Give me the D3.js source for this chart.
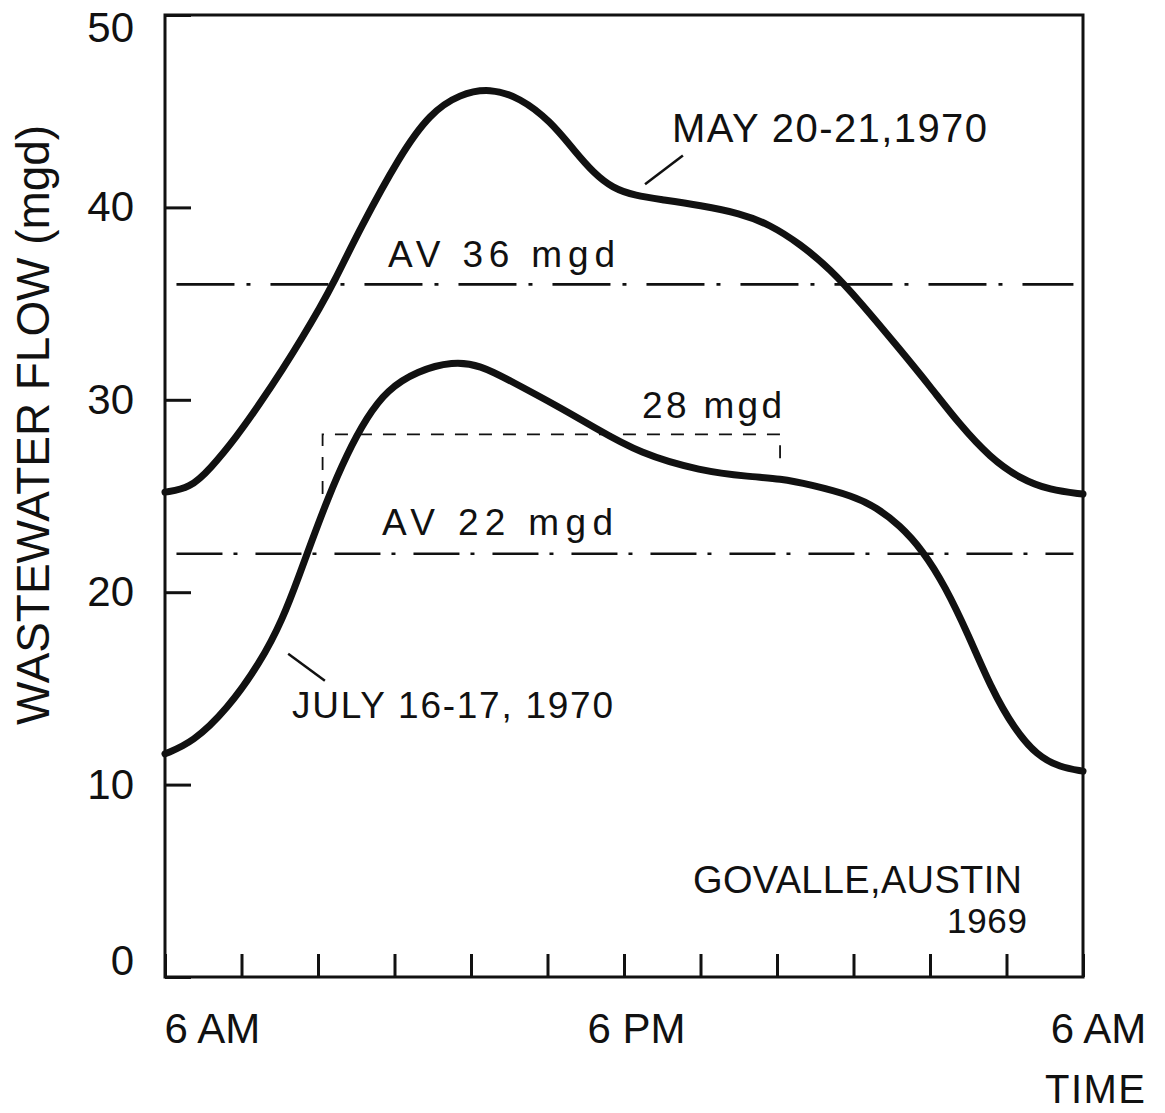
<!DOCTYPE html>
<html>
<head>
<meta charset="utf-8">
<script src="https://cdn.jsdelivr.net/npm/d3@7"></script>
<style>
  body { margin: 0; background: #fff; }
  svg text { font-family: "Liberation Sans", Arial, sans-serif; fill: #111; }
</style>
</head>
<body>
<div id="chart"></div>
<script>
// hours after 6 AM, flow in mgd
const mayHours = [0, 0.65, 1.18, 1.88, 2.48, 3.08, 3.61, 4.05, 4.39, 5.1, 6.14, 6.93, 7.71, 8.5, 9.28, 10.07, 10.72, 11.2, 11.7, 12.3, 13.0, 14.0, 15.03, 15.82, 16.6, 17.39, 18.17, 19.22, 20.0, 20.78, 21.57, 22.35, 23.14, 24]
const mayFlow  = [25.2, 25.4, 26.4, 28.1, 29.8, 31.6, 33.3, 34.8, 36.0, 38.9, 42.7, 44.9, 45.9, 46.2, 45.7, 44.5, 42.9, 41.8, 41.0, 40.6, 40.4, 40.1, 39.7, 39.1, 38.1, 36.8, 35.1, 32.6, 30.7, 28.7, 27.0, 25.9, 25.3, 25.1]

const julyHours = [0, 0.73, 1.62, 2.48, 3.08, 3.53, 3.79, 4.24, 4.76, 5.28, 5.8, 6.59, 7.53, 8.24, 9.02, 10.33, 11.19, 12.42, 14.0, 15.3, 16.08, 16.86, 18.0, 18.6, 19.2, 19.8, 20.4, 21.0, 21.6, 22.2, 22.8, 23.4, 24]
const julyFlow  = [11.6, 12.2, 13.9, 16.3, 18.6, 21.0, 22.4, 24.8, 27.2, 29.1, 30.5, 31.5, 32.0, 31.8, 31.0, 29.6, 28.6, 27.2, 26.3, 26.0, 25.9, 25.6, 25.0, 24.4, 23.5, 22.2, 20.3, 17.8, 15.0, 12.9, 11.5, 10.9, 10.7]

const averageFlow = [36, 22]
const averageSpan = [0.3, 23.75]

// dashed bracket marking the 28 mgd period
const bracketHours = [4.12, 16.08]
const bracketEnds = [25.1, 26.4]
const bracketLevel = 28.2

const hourTicks = d3.range(0, 25, 2)
const timeLabelHours = [0, 12, 24]
const timeLabels = ['6 AM', '6 PM', '6 AM']
const flowTicks = [0, 10, 20, 30, 40, 50]

const W = 1165
const H = 1113
const margin = { top: 15, right: 82, bottom: 136, left: 165 }
const font = '"Liberation Sans", Arial, sans-serif'

const svg = d3.select('#chart').append('svg')
  .attr('width', W)
  .attr('height', H)

const x = d3.scaleLinear()
  .domain([0, 24])
  .range([margin.left, W - margin.right])

const y = d3.scaleLinear()
  .domain([0, 50])
  .range([H - margin.bottom, margin.top])

const ink = '#111'

// frame
svg.append('rect')
  .attr('x', x(0))
  .attr('y', y(50))
  .attr('width', x(24) - x(0))
  .attr('height', y(0) - y(50))
  .attr('fill', 'none')
  .attr('stroke', ink)
  .attr('stroke-width', 3)

// y axis, ticks pointing in
const yAxis = d3.axisLeft(y).tickValues(flowTicks).tickSize(-26).tickPadding(31)
svg.append('g')
  .attr('transform', 'translate(' + x(0) + ',0)')
  .call(yAxis)
  .attr('font-size', 42)
  .attr('font-family', font)
  .call(g => g.select('.domain').remove())
  .call(g => g.selectAll('.tick line').attr('stroke', ink).attr('stroke-width', 3))
  .call(g => g.selectAll('.tick text')
    .attr('fill', ink)
    .attr('transform', d => d === 50 ? 'translate(0,13)' : d === 0 ? 'translate(0,-16)' : null))

// x axis
const xAxis = d3.axisBottom(x).tickValues(hourTicks).tickSize(-23).tickPadding(36)
  .tickFormat(h => {
    const i = timeLabelHours.indexOf(h)
    return i < 0 ? '' : timeLabels[i]
  })
svg.append('g')
  .attr('transform', 'translate(0,' + y(0) + ')')
  .call(xAxis)
  .attr('font-size', 42)
  .attr('font-family', font)
  .call(g => g.select('.domain').remove())
  .call(g => g.selectAll('.tick line').attr('stroke', ink).attr('stroke-width', 3))
  .call(g => g.selectAll('.tick text')
    .attr('fill', ink)
    .attr('text-anchor', h => h === 0 ? 'start' : 'middle')
    .attr('x', h => h === 0 ? -1 : h === 12 ? 12 : 15))

// axis titles
svg.append('text')
  .attr('transform', 'translate(49,425) rotate(-90)')
  .attr('text-anchor', 'middle')
  .attr('font-size', 46)
  .attr('textLength', 600)
  .attr('lengthAdjust', 'spacing')
  .text('WASTEWATER FLOW (mgd)')

svg.append('text')
  .attr('x', 1045)
  .attr('y', 1103)
  .attr('font-size', 40)
  .attr('textLength', 100)
  .attr('lengthAdjust', 'spacing')
  .text('TIME')

// average lines
svg.selectAll('.avg')
  .data(averageFlow)
  .join('line')
  .attr('class', 'avg')
  .attr('x1', x(averageSpan[0]))
  .attr('x2', x(averageSpan[1]))
  .attr('y1', d => y(d))
  .attr('y2', d => y(d))
  .attr('stroke', ink)
  .attr('stroke-width', 2.6)
  .attr('stroke-dasharray', (d, i) => i === 0 ? '58,12,4,20' : '46,11,4,18')

// bracket
svg.append('path')
  .attr('d', d3.line()([
    [x(bracketHours[0]), y(bracketEnds[0])],
    [x(bracketHours[0]), y(bracketLevel)],
    [x(bracketHours[1]), y(bracketLevel)],
    [x(bracketHours[1]), y(bracketEnds[1])]
  ]))
  .attr('fill', 'none')
  .attr('stroke', ink)
  .attr('stroke-width', 1.8)
  .attr('stroke-dasharray', '13,11')

// flow curves
const line = d3.line()
  .x(d => x(d[0]))
  .y(d => y(d[1]))
  .curve(d3.curveBasis)

const curves = [
  d3.zip(mayHours, mayFlow),
  d3.zip(julyHours, julyFlow)
]

svg.selectAll('.flow')
  .data(curves)
  .join('path')
  .attr('class', 'flow')
  .attr('d', line)
  .attr('fill', 'none')
  .attr('stroke', ink)
  .attr('stroke-width', 7)
  .attr('stroke-linecap', 'round')
  .attr('stroke-linejoin', 'round')

// leader lines
const leaders = [
  [[13.54, 42.7], [12.55, 41.2]],
  [[3.22, 16.8], [4.18, 15.4]]
]
svg.selectAll('.leader')
  .data(leaders)
  .join('line')
  .attr('class', 'leader')
  .attr('x1', d => x(d[0][0]))
  .attr('y1', d => y(d[0][1]))
  .attr('x2', d => x(d[1][0]))
  .attr('y2', d => y(d[1][1]))
  .attr('stroke', ink)
  .attr('stroke-width', 2.5)

// labels: text, left x, baseline, font size, width
const notes = [
  ['MAY 20-21,1970', 672, 142, 40, 315],
  ['AV 36 mgd', 388, 267, 37, 227],
  ['28 mgd', 642, 418, 37, 140],
  ['AV 22 mgd', 382, 535, 37, 231],
  ['JULY 16-17, 1970', 292, 718, 37, 321],
  ['GOVALLE,AUSTIN', 693, 893, 38, 329],
  ['1969', 947, 933, 35, 80]
]
svg.selectAll('.note')
  .data(notes)
  .join('text')
  .attr('class', 'note')
  .attr('x', d => d[1])
  .attr('y', d => d[2])
  .attr('font-size', d => d[3])
  .attr('textLength', d => d[4])
  .attr('lengthAdjust', 'spacing')
  .text(d => d[0])
</script>
</body>
</html>
